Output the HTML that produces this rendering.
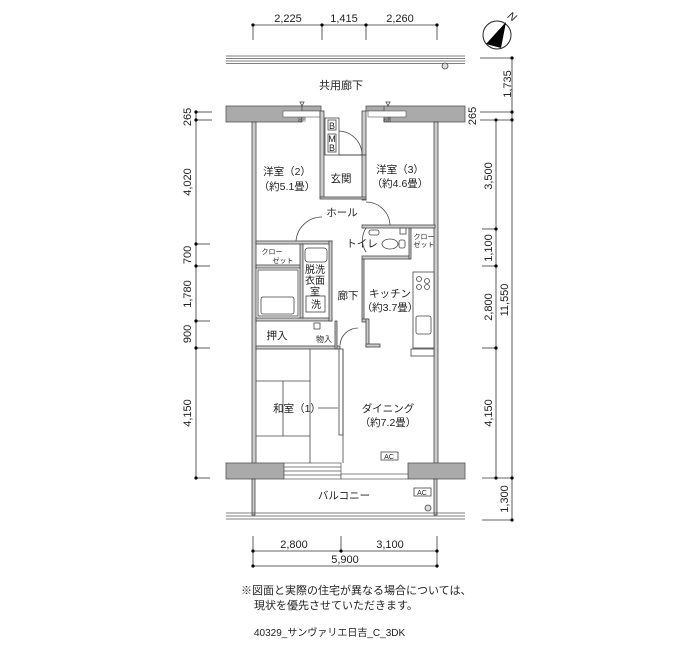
<!DOCTYPE html>
<html><head><meta charset="utf-8"><style>
html,body{margin:0;padding:0;background:#fff}
svg{display:block}
text{font-family:"Liberation Sans","Noto Sans CJK JP",sans-serif;fill:#222}
</style></head><body>
<svg width="700" height="650" viewBox="0 0 700 650" xmlns="http://www.w3.org/2000/svg">
<defs>
<g id="dot"><circle r="1.6" fill="#000"/></g>
</defs>
<!-- top dims -->
<g stroke="#333" stroke-width="0.8" fill="none">
<line x1="253" y1="25" x2="437" y2="25"/>
<line x1="253" y1="25" x2="253" y2="40"/><line x1="322" y1="25" x2="322" y2="40"/>
<line x1="366" y1="25" x2="366" y2="40"/><line x1="437" y1="25" x2="437" y2="40"/>
</g>
<g fill="#000"><circle cx="253" cy="25" r="1.6"/><circle cx="322" cy="25" r="1.6"/><circle cx="366" cy="25" r="1.6"/><circle cx="437" cy="25" r="1.6"/></g>
<g font-size="11" text-anchor="middle"><text x="288" y="22">2,225</text><text x="344" y="22">1,415</text><text x="400" y="22">2,260</text></g>
<!-- compass -->
<circle cx="497" cy="35" r="14" fill="none" stroke="#222" stroke-width="1"/>
<polygon points="486,44 506,22 501,48" fill="#000"/>
<text x="509" y="18" font-size="11" font-style="italic" transform="rotate(35 509 14)">N</text>
<!-- corridor rail -->
<g stroke="#555" stroke-width="0.8">
<line x1="226" y1="56" x2="465" y2="56"/><line x1="226" y1="58.5" x2="465" y2="58.5"/>
<line x1="226" y1="61" x2="465" y2="61"/><line x1="226" y1="63.5" x2="465" y2="63.5"/>
</g>
<circle cx="445" cy="66" r="3" fill="#ddd" stroke="#444" stroke-width="0.8"/>
<text x="341" y="89" font-size="11" text-anchor="middle">共用廊下</text>
<!-- right dims -->
<g stroke="#333" stroke-width="0.8">
<line x1="512" y1="58" x2="512" y2="520"/>
<line x1="480" y1="58" x2="512" y2="58"/><line x1="480" y1="112" x2="512" y2="112"/>
<line x1="480" y1="120" x2="512" y2="120"/>
<line x1="496" y1="120" x2="496" y2="478"/>
<line x1="482" y1="229" x2="496" y2="229"/><line x1="482" y1="266" x2="496" y2="266"/>
<line x1="482" y1="348" x2="496" y2="348"/><line x1="482" y1="478" x2="512" y2="478"/>
<line x1="482" y1="520" x2="512" y2="520"/>
</g>
<g fill="#000"><circle cx="512" cy="58" r="1.6"/><circle cx="512" cy="112" r="1.6"/><circle cx="512" cy="120" r="1.6"/><circle cx="496" cy="120" r="1.6"/><circle cx="496" cy="229" r="1.6"/><circle cx="496" cy="266" r="1.6"/><circle cx="496" cy="348" r="1.6"/><circle cx="496" cy="478" r="1.6"/><circle cx="512" cy="478" r="1.6"/><circle cx="512" cy="520" r="1.6"/></g>
<g font-size="11" text-anchor="middle">
<text transform="translate(511,84) rotate(-90)">1,735</text>
<text transform="translate(476,116) rotate(-90)">265</text>
<text transform="translate(492,176) rotate(-90)">3,500</text>
<text transform="translate(492,248) rotate(-90)">1,100</text>
<text transform="translate(492,307) rotate(-90)">2,800</text>
<text transform="translate(508,300) rotate(-90)">11,550</text>
<text transform="translate(492,413) rotate(-90)">4,150</text>
<text transform="translate(508,499) rotate(-90)">1,300</text>
</g>
<!-- left dims -->
<g stroke="#333" stroke-width="0.8">
<line x1="196" y1="112" x2="196" y2="478"/>
<line x1="196" y1="112" x2="212" y2="112"/><line x1="196" y1="120" x2="212" y2="120"/>
<line x1="196" y1="244" x2="210" y2="244"/><line x1="196" y1="266" x2="210" y2="266"/>
<line x1="196" y1="321" x2="210" y2="321"/><line x1="196" y1="348" x2="210" y2="348"/>
<line x1="196" y1="478" x2="210" y2="478"/>
</g>
<g fill="#000"><circle cx="196" cy="112" r="1.6"/><circle cx="196" cy="120" r="1.6"/><circle cx="196" cy="244" r="1.6"/><circle cx="196" cy="266" r="1.6"/><circle cx="196" cy="321" r="1.6"/><circle cx="196" cy="348" r="1.6"/><circle cx="196" cy="478" r="1.6"/></g>
<g font-size="11" text-anchor="middle">
<text transform="translate(191,117) rotate(-90)">265</text>
<text transform="translate(191,182) rotate(-90)">4,020</text>
<text transform="translate(191,255) rotate(-90)">700</text>
<text transform="translate(191,294) rotate(-90)">1,780</text>
<text transform="translate(191,334) rotate(-90)">900</text>
<text transform="translate(191,413) rotate(-90)">4,150</text>
</g>
<!-- top wall -->
<g fill="#aaa" stroke="#555" stroke-width="0.8">
<rect x="226" y="106" width="76" height="16"/>
<rect x="384" y="106" width="81" height="16"/>
<rect x="302" y="106" width="19" height="5"/><rect x="366" y="106" width="18" height="5"/>
</g>
<g fill="#fff" stroke="#555" stroke-width="0.6">
<rect x="283" y="111" width="37" height="6"/><rect x="368" y="111" width="38" height="6"/>
</g>
<g font-size="4" text-anchor="middle"><text x="302" y="121">出窓</text><text x="387" y="121">出窓</text></g>
<g fill="none" stroke="#444" stroke-width="0.8"><path d="M300 102 l4 0 l-2 4z"/><path d="M386 102 l4 0 l-2 4z"/></g>
<!-- exterior walls -->
<g fill="#ccc" stroke="#444" stroke-width="0.8">
<rect x="252" y="122" width="4" height="341"/>
<rect x="434" y="122" width="4" height="341"/>
<rect x="320" y="111" width="4" height="86"/>
<rect x="362" y="111" width="4" height="44"/>
</g>
<!-- BMB -->
<g fill="#fff" stroke="#444" stroke-width="0.8">
<rect x="325" y="118" width="14" height="37"/>
<rect x="328" y="120" width="8" height="10"/>
<rect x="328" y="134" width="8" height="18"/>
</g>
<g font-size="9" text-anchor="middle"><text x="332" y="129">B</text><text x="332" y="142">M</text><text x="332" y="151">B</text></g>
<path d="M339 131 A24 24 0 0 1 362 155" fill="none" stroke="#444" stroke-width="0.8"/>
<line x1="339" y1="155" x2="366" y2="155" stroke="#444" stroke-width="1"/>
<g fill="#ccc" stroke="#444" stroke-width="0.8">
<rect x="362" y="155" width="4" height="45"/>
<rect x="320" y="197" width="46" height="2"/>
</g>
<!-- room labels -->
<g font-size="10.5" text-anchor="middle">
<text x="287" y="175">洋室（2）</text><text x="287" y="190">（約5.1畳）</text>
<text x="400" y="173">洋室（3）</text><text x="400" y="187">（約4.6畳）</text>
<text x="341" y="182">玄関</text>
<text x="342" y="216">ホール</text>
<text x="362" y="247">トイレ</text>
<text x="277" y="287">浴室</text>
<text x="348" y="299">廊下</text>
<text x="390" y="297">キッチン</text><text x="390" y="311">（約3.7畳）</text>
<text x="277" y="339">押入</text>
<text x="297" y="412">和室（1）</text>
<text x="388" y="412">ダイニング</text><text x="388" y="426">（約7.2畳）</text>
<text x="344" y="499">バルコニー</text>
</g>
<!-- hall door arcs -->
<g fill="none" stroke="#444" stroke-width="0.8">
<path d="M296 241 A26 26 0 0 1 322 217"/>
<path d="M366 202 A24 24 0 0 1 390 226"/>
<path d="M366 228 A22 22 0 0 0 366 252"/>
</g>
<!-- left middle walls -->
<g fill="#ccc" stroke="#444" stroke-width="0.8">
<rect x="256" y="241" width="76" height="3"/>
<rect x="256" y="318" width="76" height="3"/>
<rect x="256" y="346" width="84" height="3"/>
<rect x="329" y="241" width="3" height="80"/>
<rect x="300" y="244" width="3" height="74"/>
<rect x="256" y="265" width="44" height="3"/>
<rect x="362" y="225" width="73" height="3"/>
<rect x="362" y="256" width="48" height="3"/>
<rect x="409" y="228" width="2" height="31"/>
<rect x="362" y="259" width="2" height="60"/>
<rect x="362" y="319" width="6" height="3"/>
<rect x="366" y="319" width="3" height="28"/>
<rect x="366" y="344" width="14" height="3"/>
<rect x="335" y="321" width="2" height="28"/>
</g>
<!-- closets -->
<g font-size="7" text-anchor="middle"><text x="272" y="254">クロー</text><text x="283" y="263">ゼット</text>
<text x="424" y="239">クロー</text><text x="424" y="247">ゼット</text></g>
<!-- toilet -->
<g fill="#fff" stroke="#444" stroke-width="0.8">
<rect x="369" y="230" width="10" height="5" rx="2"/>
<ellipse cx="390" cy="244" rx="8" ry="5"/><rect x="399" y="240" width="6" height="8" rx="2"/>
<rect x="400" y="228" width="6" height="6"/>
</g>
<!-- bathroom -->
<g fill="#fff" stroke="#444" stroke-width="0.8">
<rect x="258" y="270" width="40" height="46"/>
<rect x="261" y="297" width="33" height="17" rx="2"/>
<rect x="305" y="248" width="22" height="14" rx="3"/>
<rect x="306" y="296" width="19" height="16"/>
</g>
<g font-size="10" text-anchor="middle"><text x="315" y="273">脱洗</text><text x="315" y="284">衣面</text><text x="315" y="295">室</text><text x="316" y="308">洗</text></g>
<text x="324" y="342" font-size="8" text-anchor="middle">物入</text>
<rect x="314" y="323" width="6" height="6" fill="#fff" stroke="#444" stroke-width="0.8"/>
<path d="M340 345 A18 18 0 0 1 358 328" fill="none" stroke="#444" stroke-width="0.8"/>
<!-- kitchen -->
<g fill="#fff" stroke="#444" stroke-width="0.8">
<rect x="413" y="272" width="21" height="76"/>
<circle cx="419" cy="279" r="2.5"/><circle cx="427" cy="281" r="2.5"/><circle cx="419" cy="287" r="2.5"/><circle cx="427" cy="287" r="2.5"/>
<rect x="416" y="316" width="15" height="18" rx="2"/>
<rect x="411" y="349" width="23" height="7"/>
</g>
<!-- washitsu -->
<g fill="none" stroke="#444" stroke-width="0.8">
<line x1="310" y1="349" x2="310" y2="463"/>
<line x1="256" y1="381" x2="310" y2="381"/>
<line x1="256" y1="436" x2="310" y2="436"/>
<line x1="283" y1="381" x2="283" y2="436"/>
<line x1="318" y1="408" x2="338" y2="408"/>
<rect x="339" y="349" width="4" height="86" fill="#fff"/>
<line x1="343" y1="349" x2="343" y2="463"/>
<rect x="381" y="452" width="17" height="8" fill="#fff"/>
<rect x="414" y="488" width="17" height="8" fill="#fff"/>
</g>
<g font-size="7" text-anchor="middle"><text x="389" y="459">AC</text><text x="422" y="495">AC</text></g>
<!-- bottom wall -->
<g fill="#aaa" stroke="#555" stroke-width="0.8">
<rect x="226" y="463" width="58" height="16"/>
<rect x="408" y="463" width="57" height="16"/>
</g>
<g fill="#fff" stroke="#555" stroke-width="0.7">
<rect x="284" y="463" width="57" height="16"/>
<line x1="284" y1="467" x2="341" y2="467"/><line x1="284" y1="471" x2="341" y2="471"/><line x1="284" y1="475" x2="341" y2="475"/>
<rect x="341" y="474" width="67" height="5"/>
</g>
<!-- balcony -->
<g fill="#ccc" stroke="#444" stroke-width="0.8">
<rect x="252" y="479" width="3" height="36"/>
<rect x="434" y="479" width="3" height="36"/>
</g>
<g stroke="#555" stroke-width="0.8">
<line x1="226" y1="513" x2="465" y2="513"/><line x1="226" y1="516" x2="465" y2="516"/><line x1="226" y1="519" x2="465" y2="519"/>
</g>
<circle cx="428" cy="508" r="3" fill="#ddd" stroke="#444" stroke-width="0.8"/>
<!-- bottom dims -->
<g stroke="#333" stroke-width="0.8">
<line x1="253" y1="551" x2="437" y2="551"/><line x1="253" y1="566" x2="437" y2="566"/>
<line x1="253" y1="536" x2="253" y2="566"/><line x1="341" y1="536" x2="341" y2="551"/><line x1="437" y1="536" x2="437" y2="566"/>
</g>
<g fill="#000"><circle cx="253" cy="551" r="1.6"/><circle cx="341" cy="551" r="1.6"/><circle cx="437" cy="551" r="1.6"/><circle cx="253" cy="566" r="1.6"/><circle cx="437" cy="566" r="1.6"/></g>
<g font-size="11" text-anchor="middle"><text x="294" y="548">2,800</text><text x="390" y="548">3,100</text><text x="345" y="563">5,900</text></g>
<!-- notes -->
<text x="241" y="594" font-size="11">※図面と実際の住宅が異なる場合については、</text>
<text x="254" y="609" font-size="11">現状を優先させていただきます。</text>
<text x="254" y="636" font-size="10">40329_サンヴァリエ日吉_C_3DK</text>
</svg>
</body></html>
